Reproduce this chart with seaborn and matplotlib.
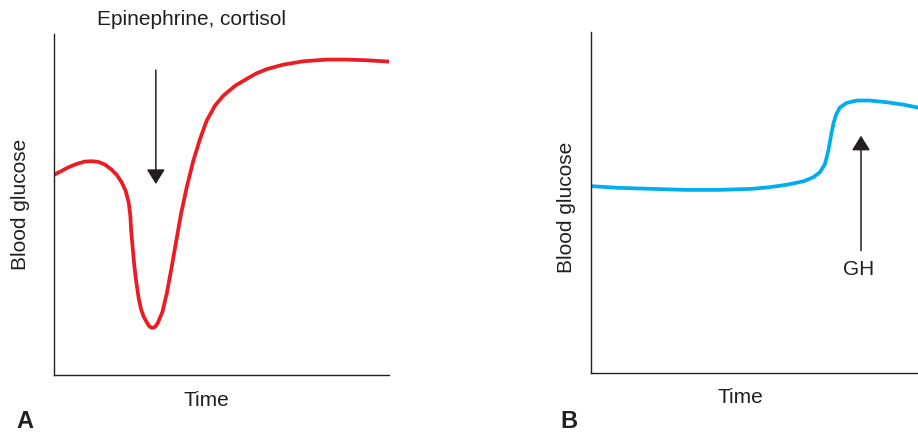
import matplotlib
matplotlib.use("Agg")
import matplotlib.pyplot as plt
import seaborn as sns
import pandas as pd

# ---- data (time and glucose in arbitrary 0-100 units) ----
time_a = [0.0, 1.79, 4.27, 6.78, 9.25, 11.25, 13.22, 15.22, 17.22, 18.72, 20.21,
          21.40, 22.30, 22.78, 23.07, 23.52, 23.97, 24.57, 25.31, 25.97, 26.72,
          27.67, 28.5, 29.34, 30.15, 30.96, 32.33, 33.64, 34.93, 36.33, 37.91,
          39.61, 41.58, 43.58, 45.58, 48.06, 50.54, 54.03, 57.3, 60.3, 63.5,
          68.4, 74.4, 81.4, 87.4, 93.3, 100.0]
glucose_a = [58.7, 59.6, 60.9, 61.9, 62.6, 62.7, 62.5, 61.7, 60.2, 58.7, 56.5,
             54.0, 50.6, 46.7, 41.8, 37.0, 32.1, 27.2, 22.3, 19.4, 17.2,
             15.5, 14.2, 13.8, 14.1, 15.2, 18.4, 23.8, 30.6, 38.4, 47.2,
             55.0, 62.8, 69.2, 74.6, 79.0, 81.9, 84.8, 86.7, 88.4, 89.7,
             91.0, 92.0, 92.5, 92.5, 92.3, 91.9]

time_b = [0.0, 8.1, 18.1, 28.1, 38.0, 48.0, 53.43, 58.42, 63.37, 66.36, 68.36,
          69.85, 70.84, 71.64, 72.33, 73.13, 74.33, 76.33, 79.31, 83.28, 88.27,
          93.22, 97.22, 100.0]
glucose_b = [54.8, 54.3, 54.0, 53.7, 53.7, 54.0, 54.5, 55.2, 56.2, 57.4, 58.9,
             61.3, 65.2, 69.6, 73.0, 75.7, 77.9, 79.2, 79.9, 79.9, 79.4,
             78.7, 77.9, 77.3]

arrow_a = (30.4, 89.4, 56.0)   # x, tail y, tip y
arrow_b = (80.6, 35.9, 69.6)
label_a = "Epinephrine, cortisol"
label_b = "GH"
x_label = "Time"
y_label = "Blood glucose"

RED = "#EC1C24"
BLUE = "#00AEEF"
INK = "#231F20"

sns.set_theme(style="white")
plt.rcParams["font.family"] = ["Liberation Sans", "DejaVu Sans"]
plt.rcParams["text.color"] = INK
plt.rcParams["axes.labelcolor"] = INK

W, H = 918, 435
fig = plt.figure(figsize=(W / 100, H / 100), dpi=100)
axA = fig.add_axes([54 / W, (H - 376) / H, 335 / W, 341 / H])
axB = fig.add_axes([591 / W, (H - 374) / H, 335 / W, 341 / H])

dfa = pd.DataFrame({"Time": time_a, "Glucose": glucose_a})
dfb = pd.DataFrame({"Time": time_b, "Glucose": glucose_b})
sns.lineplot(data=dfa, x="Time", y="Glucose", ax=axA, color=RED, lw=2.7,
             estimator=None, sort=False, solid_capstyle="butt",
             solid_joinstyle="round")
sns.lineplot(data=dfb, x="Time", y="Glucose", ax=axB, color=BLUE, lw=2.7,
             estimator=None, sort=False, solid_capstyle="butt",
             solid_joinstyle="round")

for ax in (axA, axB):
    ax.set_xlim(0, 100)
    ax.set_ylim(0, 100)
    ax.set_xticks([])
    ax.set_yticks([])
    for s in ("top", "right"):
        ax.spines[s].set_visible(False)
    for s in ("left", "bottom"):
        ax.spines[s].set_color(INK)
        ax.spines[s].set_linewidth(1.0)
    ax.patch.set_alpha(0)

axA.set_xlabel(x_label, fontsize=15, labelpad=11, x=0.454)
axA.set_ylabel(y_label, fontsize=15, labelpad=17, y=0.504)
axB.set_xlabel(x_label, fontsize=15, labelpad=10, x=0.445)
axB.set_ylabel(y_label, fontsize=15, labelpad=11, y=0.49)

aprops = dict(arrowstyle="-|>,head_length=0.45,head_width=0.28", color=INK,
              lw=1.1, mutation_scale=20, shrinkA=0, shrinkB=0)
axA.annotate("", xy=(arrow_a[0], arrow_a[2]), xytext=(arrow_a[0], arrow_a[1]),
             arrowprops=aprops)
axB.annotate("", xy=(arrow_b[0], arrow_b[2]), xytext=(arrow_b[0], arrow_b[1]),
             arrowprops=aprops)

axA.text(41.0, 102.8, label_a, fontsize=15, ha="center", va="baseline",
         clip_on=False)
axB.text(80.0, 30.6, label_b, fontsize=15, ha="center", va="center")

fig.text(25 / W, 1 - 422 / H, "A", fontsize=17, fontweight="bold",
         ha="center", va="center")
fig.text(569 / W, 1 - 422 / H, "B", fontsize=17, fontweight="bold",
         ha="center", va="center")

fig.savefig("out.png", dpi=100)
